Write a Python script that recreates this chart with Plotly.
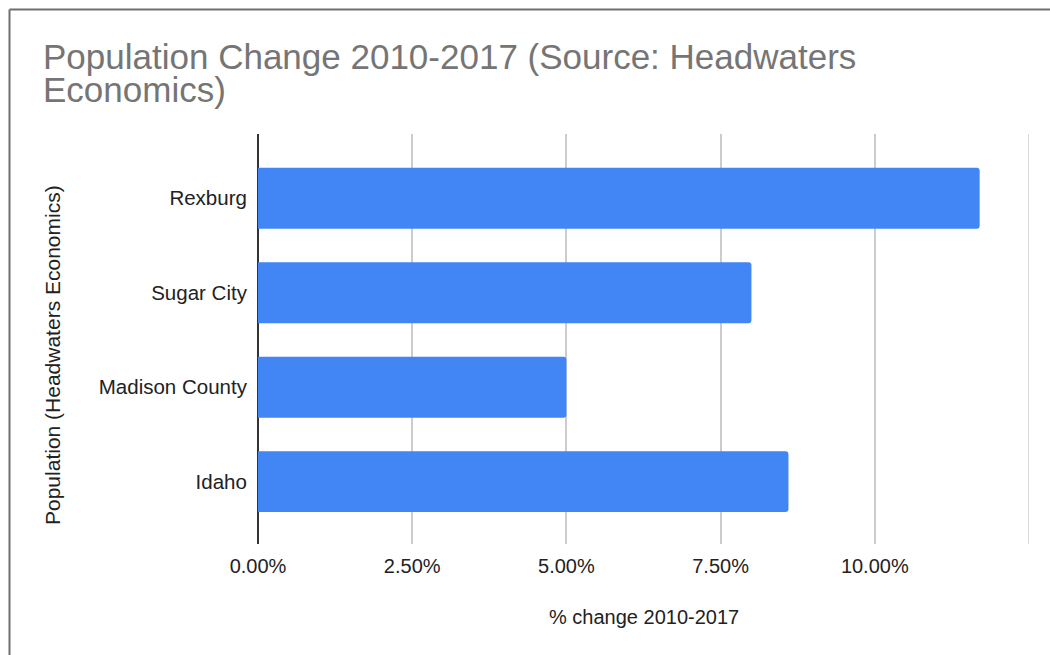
import plotly.graph_objects as go

# Population change 2010-2017 by place
places = ["Rexburg", "Sugar City", "Madison County", "Idaho"]
pct_change = [0.117, 0.080, 0.050, 0.086]

x_tick_vals = [0.0, 0.025, 0.05, 0.075, 0.10, 0.125]
x_tick_text = ["0.00%", "2.50%", "5.00%", "7.50%", "10.00%", ""]
x_max = 0.125

title_lines = ["Population Change 2010-2017 (Source: Headwaters", "Economics)"]
x_title = "% change 2010-2017"
y_title = "Population (Headwaters Economics)"

W, H = 1050, 655
L, R, T, B = 258, 21, 134, 111
PW, PH = W - L - R, H - T - B

FONT = "Liberation Sans, Arial, sans-serif"
GRID = "#cccccc"


def px_x(px):
    return (px - L) / PW


def px_y(py):
    return (H - B - py) / PH


fig = go.Figure(
    go.Bar(
        x=pct_change,
        y=places,
        orientation="h",
        marker=dict(color="#4285F4", line=dict(width=0)),
        hoverinfo="x+y",
    )
)

annotations = [
    dict(text=title_lines[0], x=px_x(41), y=px_y(56), xref="paper", yref="paper",
         xanchor="left", yanchor="middle", showarrow=False,
         font=dict(family=FONT, size=35, color="#757575")),
    dict(text=title_lines[1], x=px_x(41), y=px_y(89.5), xref="paper", yref="paper",
         xanchor="left", yanchor="middle", showarrow=False,
         font=dict(family=FONT, size=35, color="#757575")),
    dict(text=x_title, x=0.5, y=px_y(617), xref="paper", yref="paper",
         xanchor="center", yanchor="middle", showarrow=False,
         font=dict(family=FONT, size=20, color="#222222")),
    dict(text=y_title, x=px_x(52), y=px_y(355), xref="paper", yref="paper",
         xanchor="center", yanchor="middle", showarrow=False, textangle=-90,
         font=dict(family=FONT, size=21, color="#222222")),
]

shapes = [
    # outer frame of the chart card
    dict(type="line", xref="paper", yref="paper",
         x0=px_x(9.5), x1=px_x(W + 5), y0=px_y(9.5), y1=px_y(9.5),
         line=dict(color="#6f6f6f", width=2)),
    dict(type="line", xref="paper", yref="paper",
         x0=px_x(9.5), x1=px_x(9.5), y0=px_y(9.5), y1=px_y(H + 5),
         line=dict(color="#6f6f6f", width=2)),
    # gridline at the end of the value axis
    dict(type="line", xref="x", yref="paper", x0=x_max, x1=x_max, y0=0, y1=1,
         line=dict(color=GRID, width=1.5), layer="below"),
]

fig.update_layout(
    width=W,
    height=H,
    margin=dict(l=L, r=R, t=T, b=B, pad=0),
    paper_bgcolor="white",
    plot_bgcolor="white",
    showlegend=False,
    bargap=0.355,
    barcornerradius=3,
    font=dict(family=FONT, size=20, color="#222222"),
    annotations=annotations,
    shapes=shapes,
    xaxis=dict(
        range=[0, x_max],
        tickvals=x_tick_vals,
        ticktext=x_tick_text,
        showgrid=True,
        gridcolor=GRID,
        gridwidth=1.5,
        zeroline=True,
        zerolinecolor="#333333",
        zerolinewidth=2,
        showline=False,
        ticks="outside",
        ticklen=4,
        tickcolor="rgba(0,0,0,0)",
        tickfont=dict(family=FONT, size=20, color="#222222"),
        fixedrange=True,
    ),
    yaxis=dict(
        type="category",
        categoryorder="array",
        categoryarray=places,
        range=[3.66, -0.68],
        showgrid=False,
        zeroline=False,
        showline=False,
        ticks="outside",
        ticklen=6,
        tickcolor="rgba(0,0,0,0)",
        tickfont=dict(family=FONT, size=20.5, color="#222222"),
        fixedrange=True,
    ),
)

fig.write_html("out.html", config={"displayModeBar": False})
